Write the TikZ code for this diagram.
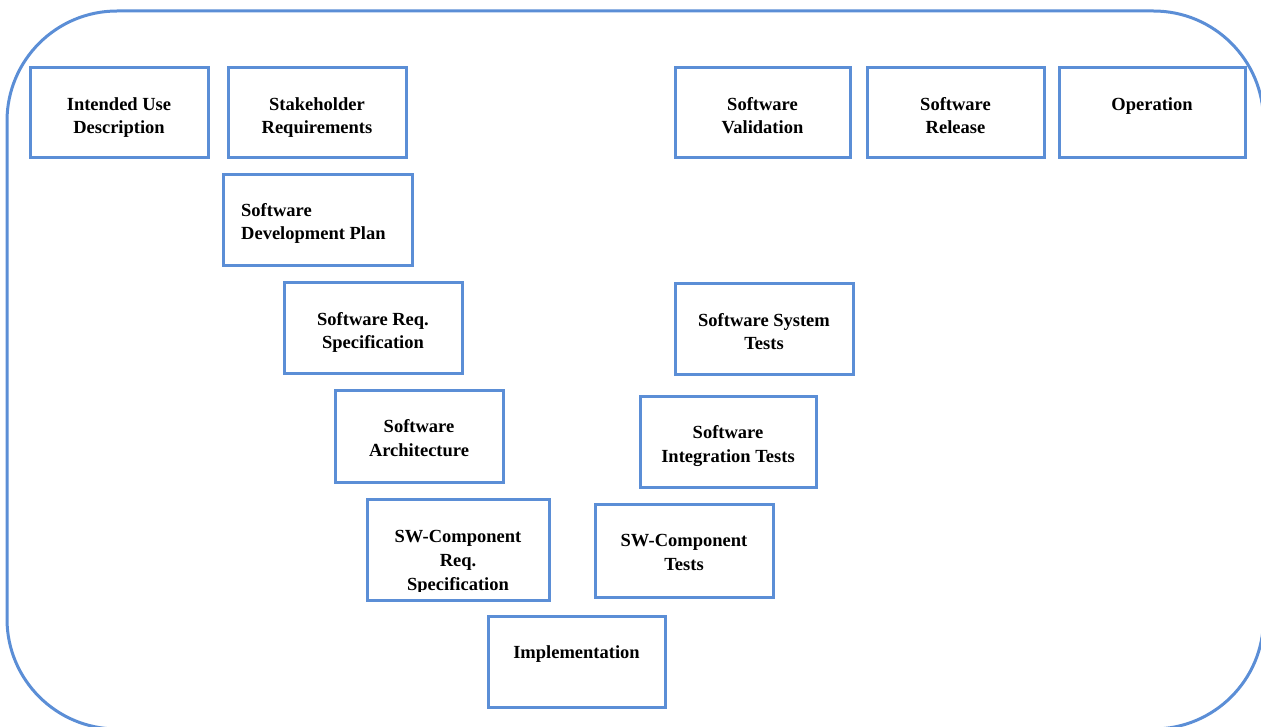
\documentclass[tikz,border=0pt]{standalone}
\usepackage{fontspec}
\setmainfont{Liberation Serif}
\definecolor{bblue}{RGB}{91,142,214}
\newcommand\stagefont{\bfseries\fontsize{18.5}{23.5}\selectfont}
% #1 name, #2 x1, #3 y1, #4 x2, #5 y2, #6 text
\newcommand\stage[6]{%
  \node[stagebox, minimum width=#4pt-#2pt, minimum height=#5pt-#3pt] (#1) at ({(#2+#4)/2},{(#3+#5)/2}) {};
  \node[stagetext] (#1-t) at ({(#2+#4)/2},{#3+42.5}) {\parbox[t]{220pt}{\centering\stagefont #6}};
}
\begin{document}
\begin{tikzpicture}[x=1pt,y=-1pt,
  stagebox/.style={draw=bblue, line width=3pt, rectangle, inner sep=0pt, outer sep=0pt},
  stagetext/.style={inner sep=0pt, anchor=base, text=black}]
\useasboundingbox (0,0) rectangle (1261,727);
\begin{scope}
  \clip (0,0) rectangle (1261,727);
  \draw[bblue, line width=3pt, rounded corners=110pt] (7,11) rectangle (1263.5,729);
\end{scope}
\stage{iu}{30}{68}{208}{158}{Intended Use\\Description}
\stage{sr}{228}{68}{406}{158}{Stakeholder\\Requirements}
\stage{sv}{675}{68}{850}{158}{Software\\Validation}
\stage{rel}{867}{68}{1044}{158}{Software\\Release}
\stage{op}{1059}{68}{1245}{158}{Operation}
% Software Development Plan (left aligned text)
\node[stagebox, minimum width=189pt, minimum height=91pt] (sdp) at (317.5,220.5) {};
\node[stagetext, anchor=base west] (sdp-t) at (241,216.5) {\parbox[t]{200pt}{\raggedright\stagefont Software\\Development Plan}};
\stage{srs}{284}{283}{462}{373}{Software Req.\\Specification}
\stage{arch}{335}{390}{503}{482}{Software\\Architecture}
% SW-Component Req. Specification (text clipped by the box)
\node[stagebox, minimum width=182pt, minimum height=101pt] (swcrs) at (458,549.5) {};
\begin{scope}
  \clip (370,502) rectangle (546,591.5);
  \node[stagetext] (swcrs-t) at (458,542) {\parbox[t]{220pt}{\centering\bfseries\fontsize{18.5}{24.3}\selectfont SW-Component\\Req.\\Specification}};
\end{scope}
\stage{impl}{488}{616}{665}{707}{Implementation}
\stage{swct}{595}{504}{773}{597}{SW-Component\\Tests}
\stage{sit}{640}{396}{816}{487}{Software\\Integration Tests}
\stage{sst}{675}{284}{853}{374}{Software System\\Tests}
\end{tikzpicture}
\end{document}
